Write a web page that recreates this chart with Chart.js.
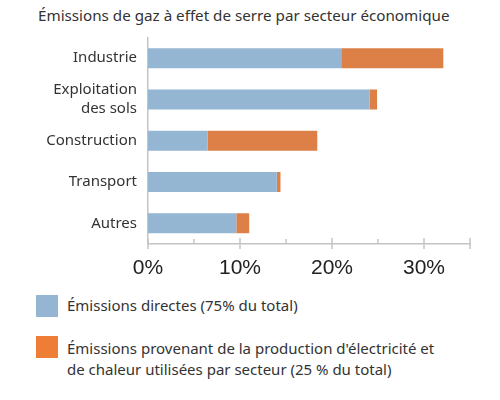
<!DOCTYPE html>
<html>
<head>
<meta charset="utf-8">
<script src="https://cdn.jsdelivr.net/npm/chart.js@4"></script>
<style>
    body { margin: 0; background: #fff; font-family: "Noto Sans", sans-serif; color: #333; }
    #wrap { position: relative; width: 500px; height: 400px; overflow: hidden; }
    #title { position: absolute; left: 38px; top: 5px; font-size: 15.2px; white-space: nowrap; }
    #chartBox { position: absolute; left: 0; top: 0; width: 500px; height: 290px; }
    .leg { position: absolute; left: 36px; font-size: 15px; line-height: 21px; }
    .sw { position: absolute; left: 0; top: 0; width: 22px; height: 22px; }
    .txt { position: absolute; left: 31px; top: 0; white-space: nowrap; }
</style>
</head>
<body>
<div id="wrap">
    <div id="title">Émissions de gaz à effet de serre par secteur économique</div>
    <div id="chartBox"><canvas id="chart" width="500" height="290"></canvas></div>
    <div class="leg" style="top:295px">
        <div class="sw" style="background:#94b6d2"></div>
        <div class="txt" style="top:0px">Émissions directes (75% du total)</div>
    </div>
    <div class="leg" style="top:336px">
        <div class="sw" style="background:#ee7d35"></div>
        <div class="txt" style="top:2px">Émissions provenant de la production d'électricité et<br>de chaleur utilisées par secteur (25 % du total)</div>
    </div>
</div>
<script>
const sectors = ['Industrie', ['Exploitation', 'des sols'], 'Construction', 'Transport', 'Autres'];
const directes = [21, 24.1, 6.5, 14.0, 9.6];
const electricite = [11.1, 0.8, 11.9, 0.4, 1.4];
const tickValues = [0, 10, 20, 30];
const majorTicks = [0, 10, 20, 30, 35];
const minorTicks = [5, 15, 25];

const axisColor = '#c4c4c4';

// tick marks on the x axis: long ones cross the line, short ones sit above it
const tickMarks = {
    id: 'tickMarks',
    afterDraw(chart) {
        const ctx = chart.ctx;
        const x = chart.scales.x;
        const yLine = chart.chartArea.bottom;
        ctx.save();
        ctx.strokeStyle = axisColor;
        ctx.lineWidth = 1.5;
        majorTicks.forEach(v => {
            const px = x.getPixelForValue(v);
            ctx.beginPath();
            ctx.moveTo(px, yLine - 6);
            ctx.lineTo(px, yLine + 5);
            ctx.stroke();
        });
        minorTicks.forEach(v => {
            const px = x.getPixelForValue(v);
            ctx.beginPath();
            ctx.moveTo(px, yLine - 5);
            ctx.lineTo(px, yLine);
            ctx.stroke();
        });
        ctx.restore();
    }
};

new Chart(document.getElementById('chart'), {
    type: 'bar',
    data: {
        labels: sectors,
        datasets: [
            { label: 'Émissions directes', data: directes, backgroundColor: '#94b6d2' },
            { label: 'Électricité et chaleur', data: electricite, backgroundColor: '#dd8047' }
        ]
    },
    options: {
        indexAxis: 'y',
        responsive: false,
        animation: false,
        layout: { padding: { top: 37.5, right: 30, left: 0, bottom: 0 } },
        datasets: { bar: { categoryPercentage: 1, barPercentage: 0.485 } },
        plugins: {
            legend: { display: false },
            tooltip: { enabled: false }
        },
        scales: {
            x: {
                stacked: true,
                min: 0,
                max: 35,
                afterBuildTicks: s => { s.ticks = tickValues.map(v => ({ value: v })); },
                afterFit: s => { s.height = 46; },
                grid: { display: false, drawTicks: false },
                border: { color: axisColor, width: 1.5 },
                ticks: {
                    padding: 12,
                    color: '#222',
                    autoSkip: false,
                    maxRotation: 0,
                    font: { family: 'Liberation Sans', size: 21 },
                    callback: v => v + '%'
                }
            },
            y: {
                stacked: true,
                afterFit: s => { s.width = 148; },
                grid: { display: false, drawTicks: false },
                border: { color: axisColor, width: 1.5 },
                ticks: {
                    padding: 11,
                    color: '#333',
                    autoSkip: false,
                    font: { family: 'Noto Sans', size: 15, lineHeight: 1.3 }
                }
            }
        }
    },
    plugins: [tickMarks]
});
</script>
</body>
</html>
